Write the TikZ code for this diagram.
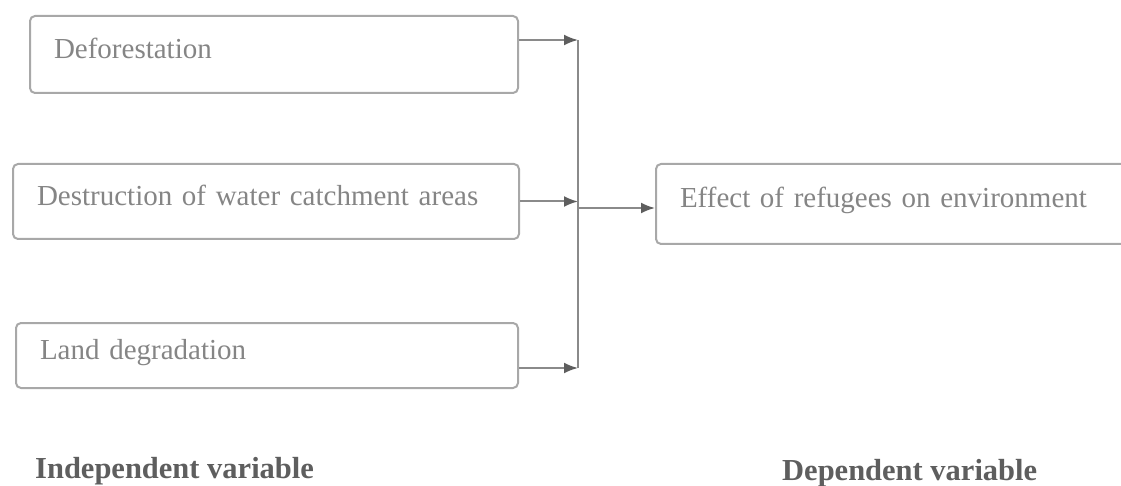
\documentclass[tikz,border=0pt]{standalone}
\usepackage{fontspec}
\setmainfont{Liberation Serif}
\usepackage{tikz}
\usetikzlibrary{shapes,arrows,arrows.meta,positioning}

\definecolor{boxgray}{HTML}{A8A8A8}
\definecolor{textgray}{HTML}{858585}
\definecolor{linegray}{HTML}{8A8A8A}
\definecolor{labelgray}{HTML}{5E5E5E}

\tikzset{
  varbox/.style={draw=boxgray, line width=2pt, rounded corners=5pt, anchor=north west,
    inner xsep=24pt, text height=12pt, text depth=4pt, align=left, text=textgray,
    font=\fontsize{29}{34}\selectfont},
  link/.style={->, >={Latex[length=14pt,width=11pt,color=labelgray]}, line width=2pt, draw=linegray},
  vartitle/.style={anchor=base west, inner sep=0pt, text=labelgray,
    font=\fontsize{30.5}{36}\selectfont\bfseries}
}

\begin{document}
\begin{tikzpicture}[x=1pt, y=-1pt]
\useasboundingbox (0,0) rectangle (1121,486);

\node[varbox, text width=440pt, minimum height=77pt] (defor) at (29,15) {Deforestation};
\node[varbox, text width=458pt, minimum height=75pt] (destr) at (12,163) {Destruction of water catchment areas};
\node[varbox, text width=454pt, minimum height=65pt] (land) at (15,322) {Land degradation};
\node[varbox, text width=432pt, minimum height=80pt] (effect) at (655,163) {Effect of refugees on environment};

\coordinate (jtop) at (578,40);
\coordinate (jmid) at (578,208);
\coordinate (jbot) at (578,368);

            \draw[link] (defor.east |- jtop) -- (jtop);
            \draw[link] (destr.east) -- (destr.east -| jmid);
            \draw[link] (land.east |- jbot) -- (jbot);
            \draw[line width=2pt, draw=linegray] (jtop) -- (jbot);
            \draw[link] (jmid) -- (effect.west |- jmid);

% variable captions
\node[vartitle] (indep) at (35,478) {Independent variable};
\node[vartitle] (dep) at (782,480) {Dependent variable};
\end{tikzpicture}
\end{document}
